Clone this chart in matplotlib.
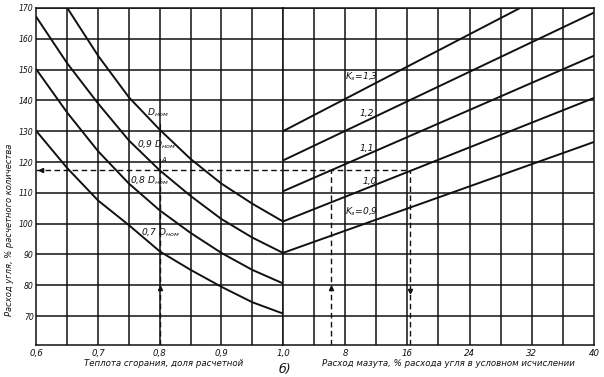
import numpy as np
import matplotlib
matplotlib.use("Agg")
import matplotlib.pyplot as plt

# left part: heat of combustion (share of design) vs coal consumption
q = [0.60, 0.65, 0.70, 0.75, 0.80, 0.85, 0.90, 0.95, 1.00]
d_nom_q = [0.65, 0.70, 0.75, 0.80, 0.85, 0.90, 0.95, 1.00]
d_nom = [170, 154.5, 141, 130.5, 121, 113, 106.5, 100.7]
d_09 = [167, 152, 139, 127, 117.3, 109, 101.5, 95.5, 90.5]
d_08 = [150, 136, 123.5, 113, 104.3, 97, 90.5, 85, 80.6]
d_07 = [130, 118, 107.5, 99.5, 91, 85, 79.5, 74.5, 70.8]

# right part: fuel oil share vs coal consumption, per K3
k_names = ["1,3", "1,2", "1,1", "1,0", "0,9"]
k_fuel = [[0, 30.5], [0, 40], [0, 40], [0, 40], [0, 40]]
k_vals = [[130, 170], [120.5, 168.5], [110.5, 154.5], [100.7, 140.8], [90.5, 126.5]]

y_ticks = [70, 80, 90, 100, 110, 120, 130, 140, 150, 160, 170]
xl_ticks = [0.6, 0.7, 0.8, 0.9, 1.0]
xl_labels = ["0,6", "0,7", "0,8", "0,9", "1,0"]
xr_ticks = [8, 16, 24, 32, 40]
xr_labels = ["8", "16", "24", "32", "40"]

# worked example
ex_q = 0.8
ex_coal = 117.3
ex_fuel_a = 6.2
ex_fuel_b = 16.4

ink = "#111111"
fs = 6.2

fig = plt.figure(figsize=(6.04, 3.77), dpi=100)
b, h = 0.0849, 0.8939
axL = fig.add_axes([0.0604, b, 0.4081, h])
axR = fig.add_axes([0.4685, b, 0.5149, h])

for ax, xlim in ((axL, (0.6, 1.0)), (axR, (0, 40))):
    ax.set_xlim(*xlim)
    ax.set_ylim(60.6, 170)
    for s in ax.spines.values():
        s.set_color(ink)
        s.set_linewidth(1.1)
    for y in y_ticks:
        ax.axhline(y, color=ink, lw=1.1, zorder=1)
    ax.tick_params(length=0, labelsize=fs, pad=3, colors=ink)

for x in np.arange(0.65, 1.0, 0.05):
    axL.axvline(x, color=ink, lw=1.1, zorder=1)
for x in np.arange(4, 40, 4):
    axR.axvline(x, color=ink, lw=1.1, zorder=1)

axL.set_yticks(y_ticks)
axL.set_yticklabels([str(v) for v in y_ticks], fontstyle="italic", fontsize=5.6)
axL.tick_params(axis="y", pad=2)
axL.set_xticks(xl_ticks)
axL.set_xticklabels(xl_labels, fontstyle="italic")
axR.set_yticks([])
axR.set_xticks(xr_ticks)
axR.set_xticklabels(xr_labels, fontstyle="italic")

# curves
axL.plot(d_nom_q, d_nom, color=ink, lw=1.4, zorder=3)
for vals in (d_09, d_08, d_07):
    axL.plot(q, vals, color=ink, lw=1.4, zorder=3)
for xs, ys in zip(k_fuel, k_vals):
    axR.plot(xs, ys, color=ink, lw=1.4, zorder=3)

# curve labels
tkw = dict(fontsize=6.6, color=ink, fontstyle="italic", va="center", ha="left", zorder=4)
axL.text(0.779, 136, r"$D_{ном}$", **tkw)
axL.text(0.763, 125.5, r"0,9 $D_{ном}$", **tkw)
axL.text(0.752, 113.8, r"0,8 $D_{ном}$", **tkw)
axL.text(0.770, 97, r"0,7 $D_{ном}$", **tkw)
axR.text(8.0, 147.6, r"$K_з$=" + k_names[0], **tkw)
axR.text(9.9, 135.9, k_names[1], **tkw)
axR.text(9.9, 124.5, k_names[2], **tkw)
axR.text(10.2, 113.8, k_names[3], **tkw)
axR.text(8.0, 103.8, r"$K_з$=" + k_names[4], **tkw)

# worked example, dashed
dkw = dict(color=ink, lw=1.0, ls=(0, (4, 2.5)), zorder=2)
axL.plot([0.6, 1.0], [ex_coal, ex_coal], **dkw)
axR.plot([0, ex_fuel_b], [ex_coal, ex_coal], **dkw)
axL.plot([ex_q, ex_q], [60.6, ex_coal], **dkw)
axR.plot([ex_fuel_a, ex_fuel_a], [60.6, ex_coal], **dkw)
axR.plot([ex_fuel_b, ex_fuel_b], [60.6, ex_coal], **dkw)
axL.plot([ex_q, ex_q], [128.5, 132.5], color=ink, lw=0.8, zorder=3)
axL.plot([ex_q, ex_q], [118.5, 121], color=ink, lw=0.8, zorder=3)
axL.text(0.803, 120.5, "A", fontsize=5, color=ink, fontstyle="italic", va="center")

mkw = dict(color=ink, ms=3, ls="none", zorder=4)
axL.plot([0.607], [ex_coal], marker="<", **mkw)
axL.plot([ex_q], [79], marker="^", **mkw)
axR.plot([ex_fuel_a], [79], marker="^", **mkw)
axR.plot([ex_fuel_b], [78], marker="v", **mkw)

fig.text(0.015, 0.39, "Расход угля, % расчетного количества", rotation=90,
         ha="center", va="center", fontsize=6, fontstyle="italic", color=ink)
fig.text(0.2715, 0.035, "Теплота сгорания, доля расчетной",
         ha="center", va="center", fontsize=fs, fontstyle="italic", color=ink)
fig.text(0.7417, 0.035, "Расход мазута, % расхода угля в условном исчислении",
         ha="center", va="center", fontsize=fs, fontstyle="italic", color=ink)
fig.text(0.472, 0.021, "б)", ha="center", va="center", fontsize=9,
         fontstyle="italic", color=ink)

fig.savefig("out.png", dpi=100)
